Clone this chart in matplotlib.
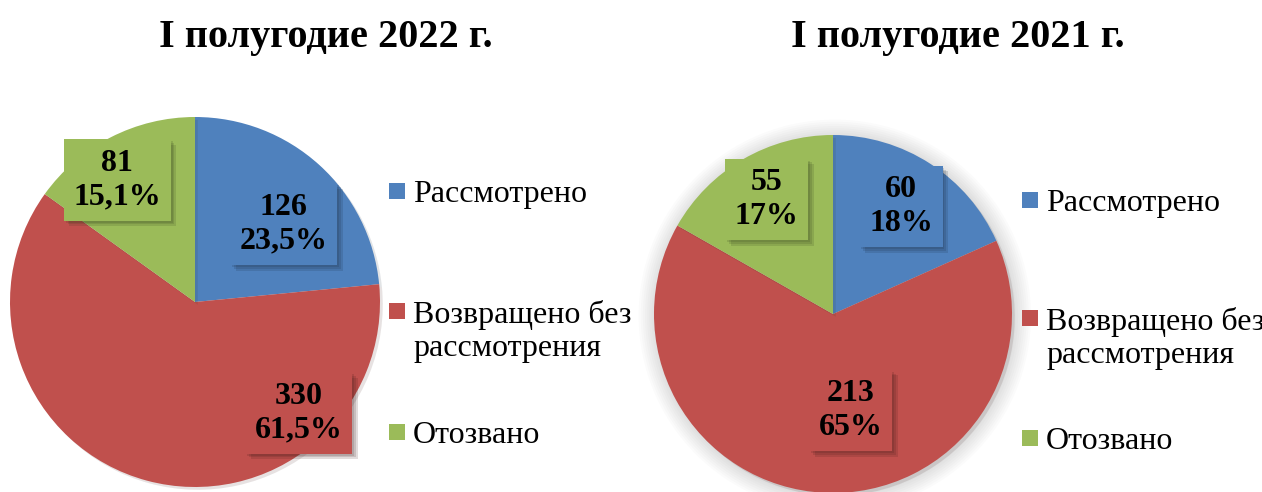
import matplotlib
matplotlib.use("Agg")
import matplotlib.pyplot as plt
import matplotlib.patheffects as pe
from matplotlib.patches import Rectangle, Circle

# данные
categories = ["Рассмотрено", "Возвращено без\nрассмотрения", "Отозвано"]
values_2022 = [126, 330, 81]
pct_2022 = ["23,5%", "61,5%", "15,1%"]
values_2021 = [60, 213, 55]
pct_2021 = ["18%", "65%", "17%"]
titles = ["I полугодие 2022 г.", "I полугодие 2021 г."]
colors = ["#4F81BD", "#C0504D", "#9BBB59"]

W, H = 1262, 492
plt.rcParams["font.family"] = ["Liberation Serif", "DejaVu Serif"]

fig = plt.figure(figsize=(W / 100, H / 100), dpi=100)


def fx(x):
    return x / W


def fy(y):
    return 1 - y / H


def soft_shadow(off, alpha):
    # несколько смещённых теней -> мягкий край
    return [pe.SimplePatchShadow(offset=(off * k / 3, -off * k / 3), alpha=alpha)
            for k in (1, 2, 3)] + [pe.Normal()]


def draw_pie(cx, cy, r, values, pcts, label_pos, glow):
    ax = fig.add_axes([fx(cx - r), fy(cy + r), 2 * r / W, 2 * r / H])
    if glow:
        for k in range(8):
            ax.add_patch(Circle((0.01, -0.01), 1.0 + 0.012 * (8 - k), color="grey",
                                alpha=0.03, lw=0, clip_on=False))
    wedges, _ = ax.pie(values, colors=colors, startangle=90, counterclock=False,
                       radius=1.0, wedgeprops=dict(linewidth=0))
    ax.set_xlim(-1, 1)
    ax.set_ylim(-1, 1)
    ax.axis("off")
    for w in wedges:
        w.set_clip_on(False)
        w.set_path_effects([pe.SimplePatchShadow(offset=(2, -2), alpha=0.12), pe.Normal()])
    for v, p, c, (lx, ly) in zip(values, pcts, colors, label_pos):
        t = ax.text(lx, ly, f"{v}\n{p}", ha="center", va="center", fontsize=23,
                    fontweight="bold", linespacing=1.2,
                    bbox=dict(boxstyle="square,pad=0.3", fc=c, ec="none"))
        t.get_bbox_patch().set_path_effects(soft_shadow(4, 0.15))
    return ax


def draw_legend(x, ys):
    for cat, c, y in zip(categories, colors, ys):
        fig.add_artist(Rectangle((fx(x), fy(y + 8)), 16 / W, 16 / H, fc=c, ec="none",
                                 transform=fig.transFigure))
        fig.text(fx(x + 24), fy(y - 11), cat, ha="left", va="top", fontsize=23,
                 linespacing=1.2)


draw_pie(195, 302, 185, values_2022, pct_2022,
         [(0.48, 0.42), (0.56, -0.60), (-0.42, 0.66)], glow=False)
draw_pie(833, 314, 179, values_2021, pct_2021,
         [(0.38, 0.60), (0.10, -0.54), (-0.37, 0.64)], glow=True)

draw_legend(389, [191, 311, 432])
draw_legend(1022, [200, 318, 438])

fig.text(fx(326), fy(38), titles[0], ha="center", va="center", fontsize=29, fontweight="bold")
fig.text(fx(958), fy(38), titles[1], ha="center", va="center", fontsize=29, fontweight="bold")

fig.savefig("out.png", dpi=100)
